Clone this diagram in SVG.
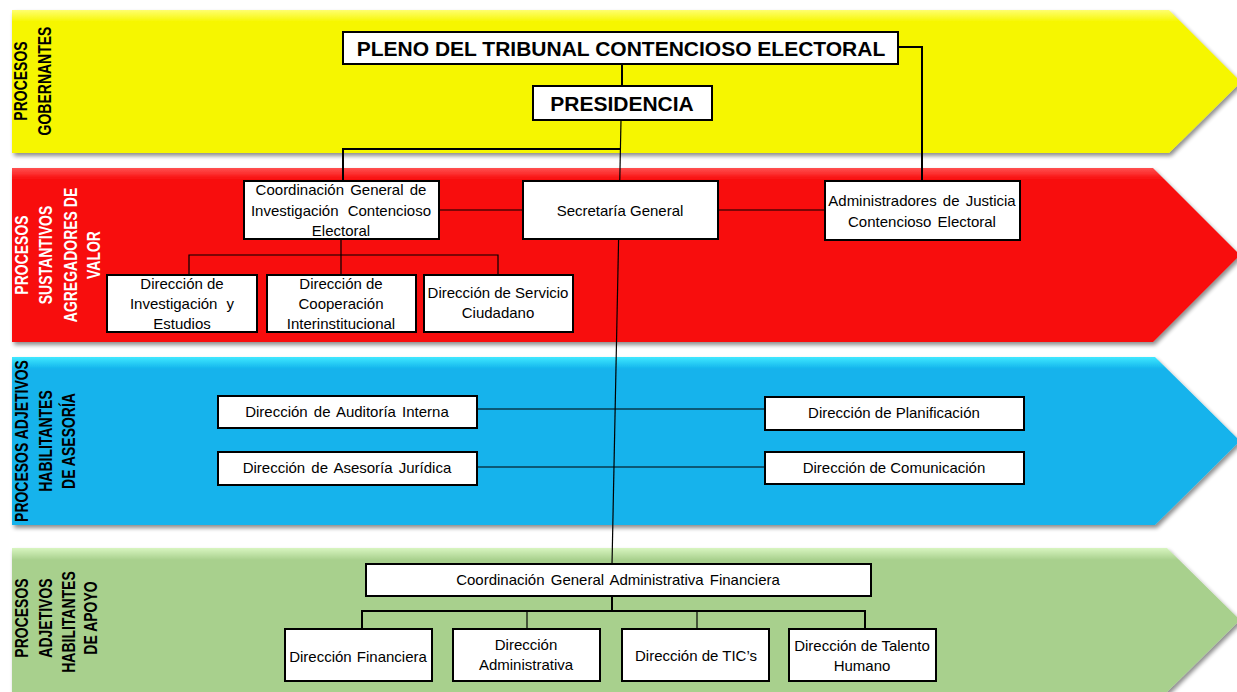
<svg xmlns="http://www.w3.org/2000/svg" width="1237" height="692" viewBox="0 0 1237 692">
<defs>
<filter id="sh" x="-5%" y="-10%" width="110%" height="130%">
<feGaussianBlur in="SourceAlpha" stdDeviation="2"/>
<feOffset dx="2" dy="3" result="b"/>
<feComponentTransfer><feFuncA type="linear" slope="0.45"/></feComponentTransfer>
<feMerge><feMergeNode/><feMergeNode in="SourceGraphic"/></feMerge>
</filter>
<linearGradient id="gy" gradientUnits="userSpaceOnUse" x1="0" y1="10" x2="0" y2="22"><stop offset="0" stop-color="#FFFF70"/><stop offset="1" stop-color="#F6F600"/></linearGradient>
<linearGradient id="gr" gradientUnits="userSpaceOnUse" x1="0" y1="168" x2="0" y2="180"><stop offset="0" stop-color="#FF5050"/><stop offset="1" stop-color="#F80A0A"/></linearGradient>
<linearGradient id="gb" gradientUnits="userSpaceOnUse" x1="0" y1="357" x2="0" y2="369"><stop offset="0" stop-color="#40E8FF"/><stop offset="1" stop-color="#12B3EC"/></linearGradient>
<linearGradient id="gg" gradientUnits="userSpaceOnUse" x1="0" y1="548" x2="0" y2="560"><stop offset="0" stop-color="#D8F5C0"/><stop offset="1" stop-color="#A8D08D"/></linearGradient>
</defs>
<style>
.box{fill:#fff;stroke:#000;stroke-width:2}
.t{font-family:"Liberation Sans",Arial,sans-serif;font-size:15px;fill:#000;text-anchor:middle}
.tb{font-family:"Liberation Sans",Arial,sans-serif;font-size:21px;font-weight:bold;fill:#000;text-anchor:middle}
.lab{font-family:"Liberation Sans",Arial,sans-serif;font-size:14px;font-weight:bold;text-anchor:middle}
.c1{stroke:#000;stroke-width:2;fill:none}
.c2{stroke:#000;stroke-width:1.2;fill:none}
</style>
<rect width="1237" height="692" fill="#fff"/>
<g id="bands">
<polygon filter="url(#sh)" fill="url(#gy)" points="12,10 1169,10 1241,82 1169,153 12,153"/>
<polygon filter="url(#sh)" fill="url(#gr)" points="12,168 1153,168 1240,255 1153,342 12,342"/>
<polygon filter="url(#sh)" fill="url(#gb)" points="12,357 1155,357 1240,441 1155,525 12,525"/>
<polygon filter="url(#sh)" fill="url(#gg)" points="12,548 1167,548 1240,620 1167,692 12,692"/>
</g>
<g id="band-labels">
<text class="lab" fill="#000" transform="translate(27,81) rotate(-90) scale(1,1.3)">PROCESOS</text>
<text class="lab" fill="#000" transform="translate(51,81) rotate(-90) scale(1,1.3)">GOBERNANTES</text>
<text class="lab" fill="#fff" transform="translate(28,255) rotate(-90) scale(1,1.3)">PROCESOS</text>
<text class="lab" fill="#fff" transform="translate(52,255) rotate(-90) scale(1,1.3)">SUSTANTIVOS</text>
<text class="lab" fill="#fff" transform="translate(77,255) rotate(-90) scale(1,1.3)">AGREGADORES DE</text>
<text class="lab" fill="#fff" transform="translate(100,255) rotate(-90) scale(1,1.3)">VALOR</text>
<text class="lab" fill="#000" transform="translate(28,441) rotate(-90) scale(1,1.3)">PROCESOS ADJETIVOS</text>
<text class="lab" fill="#000" transform="translate(52,441) rotate(-90) scale(1,1.3)">HABILITANTES</text>
<text class="lab" fill="#000" transform="translate(75,441) rotate(-90) scale(1,1.3)">DE ASESORÍA</text>
<text class="lab" fill="#000" transform="translate(28,618) rotate(-90) scale(1,1.3)">PROCESOS</text>
<text class="lab" fill="#000" transform="translate(52,618) rotate(-90) scale(1,1.3)">ADJETIVOS</text>
<text class="lab" fill="#000" transform="translate(75,622) rotate(-90) scale(1,1.3)">HABILITANTES</text>
<text class="lab" fill="#000" transform="translate(97,618) rotate(-90) scale(1,1.3)">DE APOYO</text>
</g>
<g id="connectors">
<line class="c1" x1="622" y1="64" x2="622" y2="86"/>
<polyline class="c1" points="898,47 922,47 922,182"/>
<line class="c2" x1="621" y1="120" x2="612" y2="565"/>
<polyline class="c1" points="621,149 343,149 343,181"/>
<line class="c2" x1="439" y1="210" x2="523" y2="210"/>
<line class="c2" x1="718" y1="210" x2="825" y2="210"/>
<line class="c2" x1="341" y1="239" x2="341" y2="275"/>
<polyline class="c2" points="189,275 189,255 498,255 498,275"/>
<line class="c2" x1="477" y1="409" x2="765" y2="409"/>
<line class="c2" x1="477" y1="467" x2="765" y2="467"/>
<line class="c1" x1="612" y1="596" x2="612" y2="611"/>
<polyline class="c1" points="362,629 362,611 865,611 865,629"/>
<line class="c2" x1="527" y1="611" x2="527" y2="629"/>
<line class="c2" x1="697" y1="611" x2="697" y2="629"/>
</g>
<g id="pleno"><rect class="box" x="343" y="32" width="555" height="32"/><text class="tb" x="621" y="56">PLENO DEL TRIBUNAL CONTENCIOSO ELECTORAL</text></g>
<g id="presidencia"><rect class="box" x="533" y="86" width="179" height="34"/><text class="tb" x="622" y="111">PRESIDENCIA</text></g>
<g id="coord-investigacion"><rect class="box" x="244" y="181" width="195" height="58"/>
<text class="t" x="341" y="195" word-spacing="2">Coordinación General de</text>
<text class="t" x="341" y="216" word-spacing="5">Investigación Contencioso</text>
<text class="t" x="341" y="236">Electoral</text></g>
<g id="secretaria"><rect class="box" x="523" y="181" width="195" height="58"/><text class="t" x="620" y="216">Secretaría General</text></g>
<g id="administradores"><rect class="box" x="825" y="181" width="195" height="59"/>
<text class="t" x="922" y="206" word-spacing="2">Administradores de Justicia</text>
<text class="t" x="922" y="227" word-spacing="2">Contencioso Electoral</text></g>
<g id="dir-investigacion"><rect class="box" x="107" y="275" width="150" height="57"/>
<text class="t" x="182" y="289">Dirección de</text>
<text class="t" x="182" y="309" word-spacing="5">Investigación y</text>
<text class="t" x="182" y="329">Estudios</text></g>
<g id="dir-cooperacion"><rect class="box" x="267" y="275" width="149" height="57"/>
<text class="t" x="341" y="289">Dirección de</text>
<text class="t" x="341" y="309">Cooperación</text>
<text class="t" x="341" y="329">Interinstitucional</text></g>
<g id="dir-servicio"><rect class="box" x="424" y="275" width="149" height="57"/>
<text class="t" x="498" y="298">Dirección de Servicio</text>
<text class="t" x="498" y="318">Ciudadano</text></g>
<g id="dir-auditoria"><rect class="box" x="218" y="396" width="259" height="32"/><text class="t" x="347" y="417" word-spacing="2">Dirección de Auditoría Interna</text></g>
<g id="dir-asesoria"><rect class="box" x="218" y="452" width="259" height="33"/><text class="t" x="347" y="473" word-spacing="2">Dirección de Asesoría Jurídica</text></g>
<g id="dir-planificacion"><rect class="box" x="765" y="397" width="259" height="33"/><text class="t" x="894" y="418">Dirección de Planificación</text></g>
<g id="dir-comunicacion"><rect class="box" x="765" y="452" width="259" height="32"/><text class="t" x="894" y="473">Dirección de Comunicación</text></g>
<g id="coord-administrativa"><rect class="box" x="366" y="564" width="505" height="32"/><text class="t" x="618" y="585" word-spacing="2">Coordinación General Administrativa Financiera</text></g>
<g id="dir-financiera"><rect class="box" x="285" y="629" width="147" height="52"/><text class="t" x="358" y="662" word-spacing="1">Dirección Financiera</text></g>
<g id="dir-administrativa"><rect class="box" x="453" y="629" width="147" height="52"/>
<text class="t" x="526" y="650">Dirección</text>
<text class="t" x="526" y="670">Administrativa</text></g>
<g id="dir-tics"><rect class="box" x="622" y="629" width="147" height="52"/><text class="t" x="696" y="661">Dirección de TIC’s</text></g>
<g id="dir-talento"><rect class="box" x="789" y="629" width="147" height="52"/>
<text class="t" x="862" y="651">Dirección de Talento</text>
<text class="t" x="862" y="671">Humano</text></g>
</svg>
